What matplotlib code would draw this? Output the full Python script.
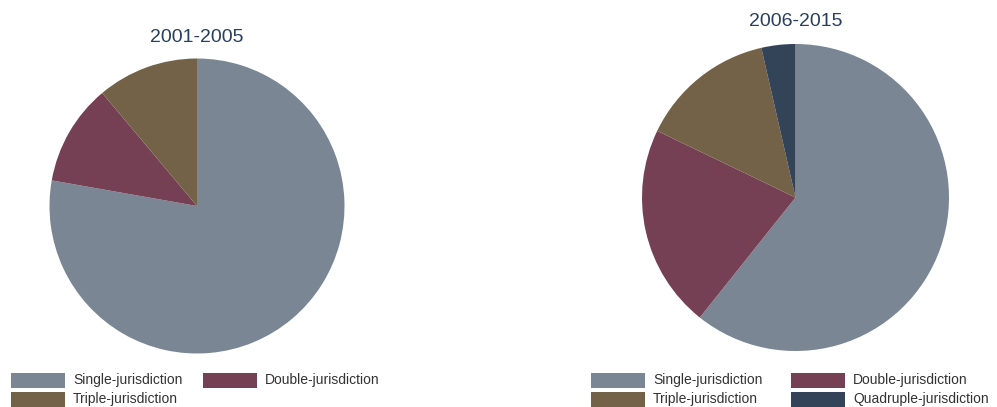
import matplotlib
matplotlib.use("Agg")
import matplotlib.pyplot as plt
from matplotlib.patches import Rectangle

plt.rcParams['font.family'] = ['Liberation Sans', 'DejaVu Sans']

# data
labels = ['Single-jurisdiction', 'Double-jurisdiction', 'Triple-jurisdiction', 'Quadruple-jurisdiction']
colors = ['#7a8694', '#764054', '#736248', '#334358']
counts_2001_2005 = [7, 1, 1]
counts_2006_2015 = [17, 6, 4, 1]
titles = ['2001-2005', '2006-2015']

W, H = 997, 407
fig = plt.figure(figsize=(W / 100, H / 100), dpi=100)

# (center x, center y, radius) in pixels, legend origin, column offset
panels = [
    dict(vals=counts_2001_2005, cx=197, cy=206, r=147.5, ty=37, lx=11, col2=192),
    dict(vals=counts_2006_2015, cx=795.5, cy=197.5, r=153.5, ty=22, lx=591, col2=200),
]

for p, title in zip(panels, titles):
    ax = fig.add_axes([(p['cx'] - p['r']) / W, (H - p['cy'] - p['r']) / H,
                       2 * p['r'] / W, 2 * p['r'] / H])
    n = len(p['vals'])
    ax.pie(p['vals'], colors=colors[:n], startangle=90, counterclock=False,
           wedgeprops=dict(linewidth=0))
    ax.set_xlim(-1, 1)
    ax.set_ylim(-1, 1)
    ax.set_aspect('equal')
    ax.axis('off')
    fig.text(p['cx'] / W, 1 - p['ty'] / H, title, ha='center', va='center',
             fontsize=14, color='#2a3f5f')

    # legend, filled row by row
    for i in range(n):
        row, col = i // 2, i % 2
        x0 = p['lx'] + col * p['col2']
        yc = 380 + row * 19
        fig.patches.append(Rectangle((x0 / W, 1 - (yc + 7.5) / H), 54 / W, 15 / H,
                                     transform=fig.transFigure, color=colors[i],
                                     linewidth=0))
        fig.text((x0 + 62) / W, 1 - yc / H, labels[i], ha='left', va='center',
                 fontsize=10, color='#333333')

fig.savefig('out.png', dpi=100)
